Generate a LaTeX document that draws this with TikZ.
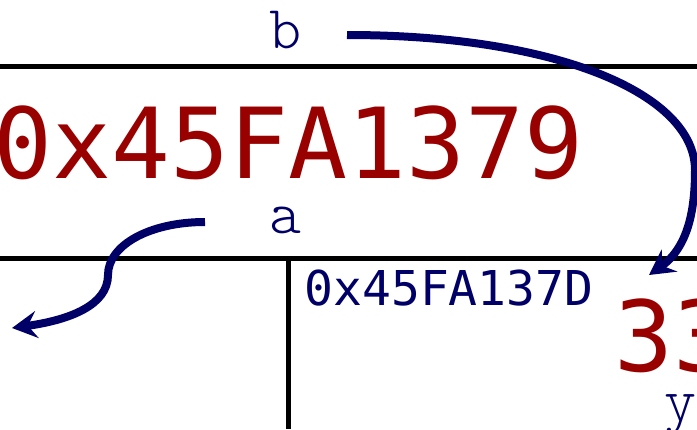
\documentclass[tikz,border=0pt]{standalone}
\usepackage{fontspec}
\usetikzlibrary{arrows.meta}
\newfontfamily\dejamono{DejaVu Sans Mono}
\newfontfamily\labfont{Latin Modern Mono Light}
\definecolor{navyink}{RGB}{0,0,102}
\definecolor{valred}{RGB}{153,0,0}
\tikzset{
  cellline/.style={line width=5.2pt, black},
  ptrarrow/.style={line width=8pt, navyink, -{Stealth[length=25pt,width=27pt,inset=9pt]}},
  bigval/.style={anchor=base west, inner sep=0pt, outer sep=0pt, text=valred, font=\dejamono\fontsize{98}{98}\selectfont},
  addrtxt/.style={anchor=base west, inner sep=0pt, outer sep=0pt, text=navyink, font=\dejamono\fontsize{48}{48}\selectfont},
  varlabel/.style={anchor=base, inner sep=0pt, outer sep=0pt, text=navyink, font=\labfont\fontsize{61}{61}\selectfont}
}
\begin{document}
\begin{tikzpicture}[x=1pt, y=-1pt]
\useasboundingbox (0,0) rectangle (697,429);
% cell borders
\draw[cellline] (0,66.5) -- (697,66.5);
\draw[cellline] (0,258.5) -- (697,258.5);
\draw[cellline] (288.3,258.5) -- (288.3,429);
% texts
\node[bigval] (val) at (-6.7,178) {0x45FA1379};
\node[varlabel] (lb) at (285.5,48.5) {b};
\node[varlabel] (la) at (285.5,233) {a};
\node[addrtxt] (addr) at (304.5,305) {0x45FA137D};
\node[bigval] (val2) at (614,371) {33};
\node[varlabel] (ly) at (681,420.5) {y};
% arrows
\coordinate (bs) at (347,35);
\coordinate (be) at (649,275);
\coordinate (as) at (205,222);
\coordinate (ae) at (12,328);
\draw[ptrarrow] (bs) .. controls (560,35) and (695,95) .. (695,170)
  .. controls (695,205) and (690,246) .. (be);
\draw[ptrarrow] (as) .. controls (150,222) and (108,245) .. (108,275)
  .. controls (108,305) and (70,320) .. (ae);
\end{tikzpicture}
\end{document}
